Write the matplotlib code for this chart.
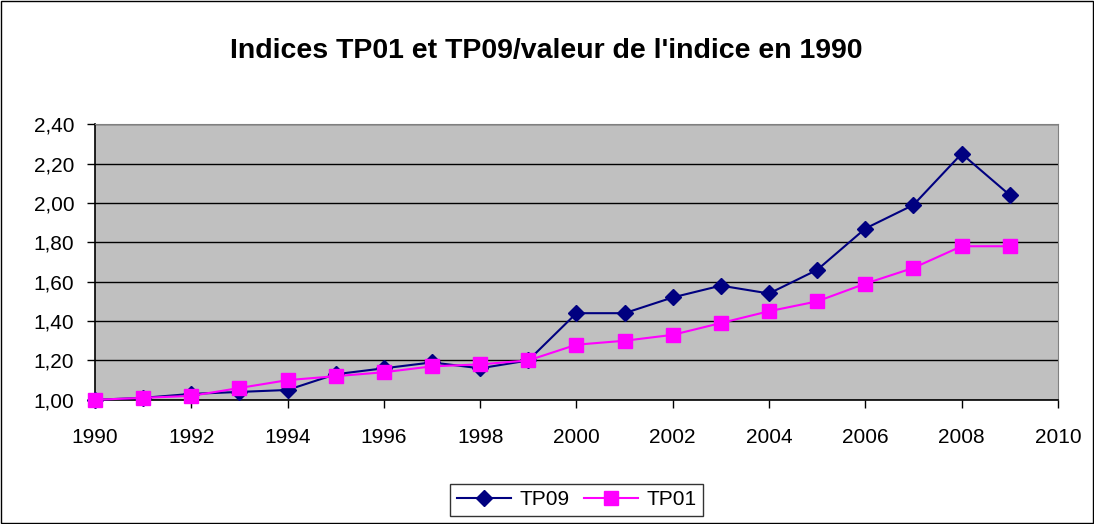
import numpy as np
import matplotlib.pyplot as plt
from matplotlib.patches import Rectangle

plt.rcParams['font.family'] = ['Liberation Sans', 'DejaVu Sans']

# data
years = [1990, 1991, 1992, 1993, 1994, 1995, 1996, 1997, 1998, 1999,
         2000, 2001, 2002, 2003, 2004, 2005, 2006, 2007, 2008, 2009]
tp09 = [1.00, 1.01, 1.03, 1.04, 1.05, 1.13, 1.16, 1.19, 1.16, 1.20,
        1.44, 1.44, 1.52, 1.58, 1.54, 1.66, 1.87, 1.99, 2.25, 2.04]
tp01 = [1.00, 1.01, 1.02, 1.06, 1.10, 1.12, 1.14, 1.17, 1.18, 1.20,
        1.28, 1.30, 1.33, 1.39, 1.45, 1.50, 1.59, 1.67, 1.78, 1.78]
yticks = [1.0, 1.2, 1.4, 1.6, 1.8, 2.0, 2.2, 2.4]
xticks = list(range(1990, 2011, 2))

fig = plt.figure(figsize=(10.94, 5.24), dpi=100)
ax = fig.add_axes([0.0868, 0.237, 0.8802, 0.526])
ax.set_facecolor('#C0C0C0')

ax.plot(years, tp09, color='#000080', lw=1.5, marker='D', ms=8.5,
        mec='#000080', mfc='#000080', label='TP09', zorder=3, clip_on=False)
ax.plot(years, tp01, color='#FF00FF', lw=1.5, marker='s', ms=9.5,
        mec='#FF00FF', mfc='#FF00FF', label='TP01', zorder=3, clip_on=False)

ax.set_xlim(1990, 2010)
ax.set_ylim(1.0, 2.4)
ax.set_xticks(xticks)
ax.set_yticks(yticks)
ax.set_yticklabels([('%.2f' % v).replace('.', ',') for v in yticks])
ax.tick_params(axis='both', labelsize=15, length=6, width=1, color='black')
ax.tick_params(axis='x', pad=14)
ax.tick_params(axis='y', pad=9)
ax.grid(True, axis='y', color='black', lw=1)
ax.set_axisbelow(True)

for s in ['top', 'right']:
    ax.spines[s].set_color('#808080')
for s in ['left', 'bottom']:
    ax.spines[s].set_color('black')
    ax.spines[s].set_linewidth(1.2)

fig.text(0.499, 0.903, "Indices TP01 et TP09/valeur de l'indice en 1990",
         fontsize=20.5, fontweight='bold', ha='center', va='center')

leg = fig.legend(loc='center', bbox_to_anchor=(0.527, 0.046), ncol=2,
                 fontsize=15, frameon=True, fancybox=False, edgecolor='black',
                 handlelength=2.6, columnspacing=0.7, handletextpad=0.4,
                 borderpad=0.3)
leg.get_frame().set_linewidth(1)

fig.patches.append(Rectangle((0.001, 0.001), 0.998, 0.998, transform=fig.transFigure,
                             fill=False, edgecolor='black', lw=1))

plt.savefig('out.png', dpi=100)
